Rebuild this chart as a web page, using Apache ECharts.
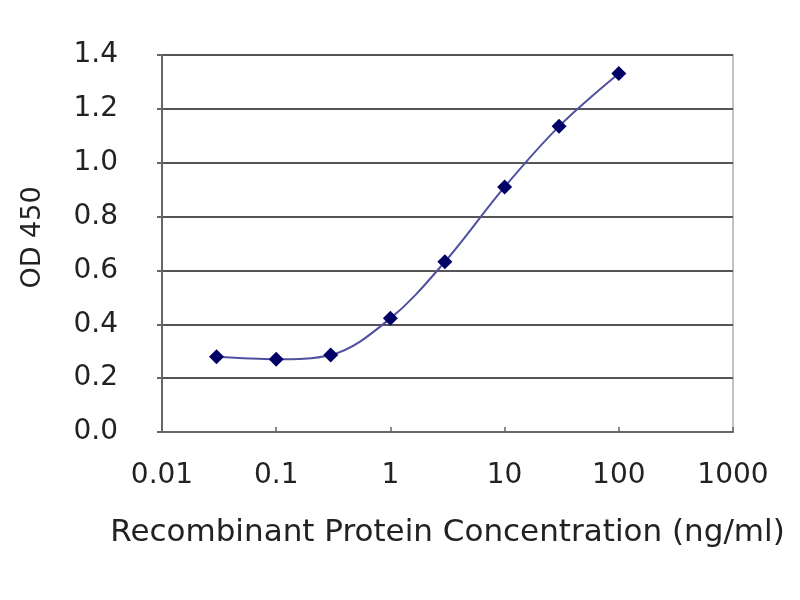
<!DOCTYPE html>
<html>
<head>
<meta charset="utf-8">
<script src="https://cdn.jsdelivr.net/npm/echarts@6/dist/echarts.min.js"></script>
<style>
  html, body { margin: 0; padding: 0; background: #fff; }
  #main { width: 800px; height: 600px; }
</style>
</head>
<body>
<div id="main"></div>
<script>
// concentration (ng/ml) and OD 450 readings
var concentrations = [0.03, 0.1, 0.3, 1, 3, 10, 30, 100];
var odValues = [0.279, 0.27, 0.286, 0.422, 0.632, 0.91, 1.135, 1.331];
var xTickLabels = ['0.01', '0.1', '1', '10', '100', '1000'];

var points = concentrations.map(function (c, i) { return [c, odValues[i]]; });

var myChart = echarts.init(document.getElementById('main'));
var font = 'DejaVu Sans';
var option = {
    animation: false,
    backgroundColor: '#fff',
    grid: {
        left: 162, right: 67, top: 55, bottom: 168,
        show: true, borderColor: '#b0b0b0', borderWidth: 1.5
    },
    xAxis: {
        type: 'log',
        logBase: 10,
        min: 0.01,
        max: 1000,
        name: 'Recombinant Protein Concentration (ng/ml)',
        nameLocation: 'middle',
        nameGap: 85,
        nameTextStyle: { fontFamily: font, fontSize: 31, color: '#222' },
        axisLine: { lineStyle: { color: '#666', width: 2 } },
        axisTick: { inside: true, length: 5, lineStyle: { color: '#666', width: 1.5 } },
        axisLabel: {
            margin: 30,
            fontFamily: font, fontSize: 28, color: '#222',
            formatter: function (v) {
                var e = Math.round(Math.log10(v));
                return xTickLabels[e + 2];
            }
        },
        splitLine: { show: false },
        minorTick: { show: false }
    },
    yAxis: {
        type: 'value',
        min: 0,
        max: 1.4,
        interval: 0.2,
        name: 'OD 450',
        nameLocation: 'middle',
        nameGap: 116,
        nameTextStyle: { fontFamily: font, fontSize: 27, color: '#222', padding: [0, 0, 0, 12] },
        axisLine: { show: true, lineStyle: { color: '#666', width: 2 } },
        axisTick: { show: true, length: 5, lineStyle: { color: '#666', width: 2 } },
        axisLabel: {
            margin: 44,
            fontFamily: font, fontSize: 28, color: '#222',
            formatter: function (v) { return v.toFixed(1); }
        },
        splitLine: { lineStyle: { color: '#555', width: 2 } }
    },
    series: [{
        type: 'line',
        data: points,
        smooth: 0.35,
        symbol: 'diamond',
        symbolSize: 15,
        itemStyle: { color: '#000066' },
        lineStyle: { color: '#5050a0', width: 2 }
    }]
};
myChart.setOption(option);
</script>
</body>
</html>
